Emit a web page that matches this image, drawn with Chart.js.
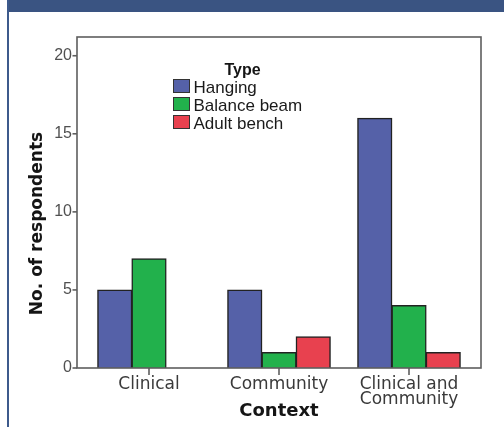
<!DOCTYPE html>
<html><head><meta charset="utf-8">
<script src="https://cdn.jsdelivr.net/npm/chart.js@4/dist/chart.umd.min.js"></script>
<style>
html,body{margin:0;padding:0;background:#fff;width:504px;height:428px;overflow:hidden;}
#wrap{position:relative;width:504px;height:428px;}
#hdr{position:absolute;left:8px;top:0;width:496px;height:12px;background:#3a5482;}
#lb{position:absolute;left:7px;top:0;width:2px;height:427px;background:#3d5a8c;}
canvas{position:absolute;left:0;top:0;}
</style></head><body>
<div id="wrap"><canvas id="c" width="504" height="428"></canvas><div id="hdr"></div><div id="lb"></div></div>
<script>
const categories = ['Clinical', 'Community', ['Clinical and', 'Community']];
const seriesNames = ['Hanging', 'Balance beam', 'Adult bench'];
const hanging = [5, 5, 16];
const balanceBeam = [7, 1, 4];
const adultBench = [0, 2, 1];
const yTicks = [0, 5, 10, 15, 20];
const legendTitle = 'Type';
const xTitle = 'Context';
const yTitle = 'No. of respondents';

const colors = ['#5561a8', '#22b14c', '#e8414f'];
const seriesValues = [hanging, balanceBeam, adultBench];

const decorPlugin = {
  id: 'decor',
  afterDraw(chart) {
    const ctx = chart.ctx, a = chart.chartArea, y = chart.scales.y, x = chart.scales.x;
    const L = a.left - 7, R = a.right + 7, T = a.top, B = a.bottom;
    ctx.save();
    ctx.strokeStyle = '#5e5e5e';
    ctx.lineWidth = 1.6;
    ctx.strokeRect(L, T, R - L, B - T);
    y.ticks.forEach(t => {
      const p = y.getPixelForValue(t.value);
      ctx.beginPath(); ctx.moveTo(L - 4.5, p); ctx.lineTo(L, p); ctx.stroke();
    });
    x.ticks.forEach((t, i) => {
      const p = x.getPixelForTick(i);
      ctx.beginPath(); ctx.moveTo(p, B); ctx.lineTo(p, B + 7); ctx.stroke();
    });
    // y title
    ctx.save();
    ctx.translate(42, 223.5);
    ctx.rotate(-Math.PI / 2);
    ctx.font = 'bold 17px "DejaVu Sans"';
    ctx.fillStyle = '#151515';
    ctx.textAlign = 'center';
    ctx.textBaseline = 'alphabetic';
    ctx.fillText(yTitle, 0, 0);
    ctx.restore();
    // legend
    const lx = 173, ly = 79, pitch = 18, bw = 17, bh = 14;
    ctx.font = 'bold 16px "Liberation Sans"';
    ctx.fillStyle = '#151515';
    ctx.textAlign = 'center';
    ctx.textBaseline = 'alphabetic';
    ctx.fillText(legendTitle, 242.5, 75);
    chart.data.datasets.forEach((ds, i) => {
      const yy = ly + i * pitch;
      ctx.fillStyle = ds.backgroundColor;
      ctx.fillRect(lx, yy, bw, bh);
      ctx.strokeStyle = '#333';
      ctx.lineWidth = 1;
      ctx.strokeRect(lx + 0.5, yy + 0.5, bw - 1, bh - 1);
      ctx.fillStyle = '#1a1a1a';
      ctx.font = '17px "Liberation Sans"';
      ctx.textAlign = 'left';
      ctx.fillText(ds.label, 193.5, yy + bh);
    });
    ctx.restore();
  }
};

new Chart(document.getElementById('c'), {
  type: 'bar',
  data: {
    labels: categories,
    datasets: seriesNames.map((n, i) => ({
      label: n,
      data: seriesValues[i],
      backgroundColor: colors[i],
      borderColor: '#222',
      borderWidth: 1.5,
      borderSkipped: 'start',
      inflateAmount: 0.5,
      barPercentage: 1,
      categoryPercentage: 0.79
    }))
  },
  options: {
    responsive: false,
    animation: false,
    devicePixelRatio: 1,
    layout: { padding: { left: 0, right: 30, top: 37, bottom: 0 } },
    plugins: { legend: { display: false }, tooltip: { enabled: false } },
    scales: {
      x: {
        grid: { display: false, drawTicks: false },
        border: { display: false },
        ticks: { font: { family: 'DejaVu Sans', size: 17, lineHeight: 0.9 }, color: '#3a3a3a', padding: 9, maxRotation: 0, autoSkip: false },
        title: { display: true, text: xTitle, font: { family: 'DejaVu Sans', size: 18, weight: 'bold' }, color: '#151515', padding: { top: 0, bottom: 5.5 } },
        afterFit(s) { s.height = 60; }
      },
      y: {
        min: 0, max: 21.2,
        grid: { display: false, drawTicks: false },
        border: { display: false },
        ticks: { font: { family: 'Liberation Sans', size: 16 }, color: '#505050', padding: 12 },
        afterBuildTicks(s) { s.ticks = yTicks.map(v => ({ value: v })); },
        afterFit(s) { s.width = 84; }
      }
    }
  },
  plugins: [decorPlugin]
});
</script>
</body></html>
